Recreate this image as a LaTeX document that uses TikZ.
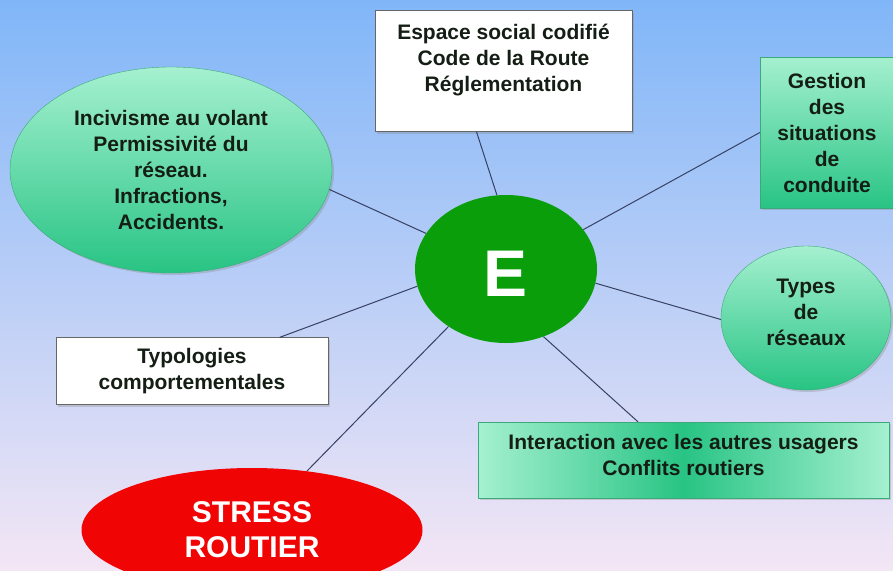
\documentclass[tikz,border=0pt]{standalone}
\usepackage{fontspec}
\setmainfont{Liberation Sans}
\usepackage{xcolor}
\usetikzlibrary{shapes.geometric, shadows}

\definecolor{skytop}{RGB}{128,182,248}
\definecolor{skybottom}{RGB}{243,230,245}
\definecolor{mintlight}{RGB}{165,240,208}
\definecolor{mintdark}{RGB}{40,196,132}
\definecolor{mintedge}{RGB}{60,170,120}
\definecolor{hubgreen}{RGB}{10,158,10}
\definecolor{stressred}{RGB}{240,4,4}
\definecolor{linkgray}{RGB}{55,65,100}
\definecolor{inkdark}{RGB}{20,30,20}

\begin{document}
\begin{tikzpicture}[x=1pt, y=-1pt,
  every node/.style={font=\bfseries\fontsize{21}{26}\selectfont, text=inkdark, align=center, inner sep=0pt},
  whitebox/.style={draw=black!60, fill=white, rectangle, drop shadow={shadow xshift=2pt, shadow yshift=-2pt, opacity=.3}},
  mintbox/.style={draw=mintedge, rectangle, top color=mintlight, bottom color=mintdark, drop shadow={shadow xshift=2pt, shadow yshift=-2pt, opacity=.3}},
  mintoval/.style={draw=mintedge, ellipse, top color=mintlight, bottom color=mintdark, drop shadow={shadow xshift=2pt, shadow yshift=-2pt, opacity=.3}},
  link/.style={draw=linkgray, line width=1pt}]
  \useasboundingbox (0,0) rectangle (893,570);
  \clip (0,0) rectangle (893,570);
  \fill[top color=skytop, bottom color=skybottom] (0,0) rectangle (893,570);

  % hub
  \node[ellipse, fill=hubgreen, minimum width=182pt, minimum height=148pt] (hub) at (506,269) {};
  \node[text=white, font=\bfseries\fontsize{66}{66}\selectfont] (hubE) at (506,274) {E};

  % satellites
  \node[whitebox, minimum width=257pt, minimum height=121pt] (espace) at (503.5,71) {Espace social codifié\\Code de la Route\\Réglementation\\\mbox{}};
  \node[mintoval, minimum width=322pt, minimum height=206pt] (incivisme) at (171,170) {Incivisme au volant\\Permissivité du\\réseau.\\Infractions,\\Accidents.};
  \node[mintbox, minimum width=134pt, minimum height=151pt] (gestion) at (827,132.5) {Gestion\\des\\situations\\de\\conduite};
  \node[mintoval, minimum width=170pt, minimum height=144pt] (types) at (806,318) {Types\\de\\réseaux\\[-14pt]\mbox{}};
  \node[whitebox, minimum width=272pt, minimum height=67pt] (typologies) at (192,371) {Typologies\\comportementales};
  \node[draw=mintedge, rectangle, left color=mintlight, right color=mintlight, middle color=mintdark, drop shadow={shadow xshift=2pt, shadow yshift=-2pt, opacity=.3}, minimum width=411pt, minimum height=76pt] (interaction) at (683.5,460) {Interaction avec les autres usagers\\Conflits routiers\\[-16pt]\mbox{}};
  \node[ellipse, fill=stressred, text=white, font=\bfseries\fontsize{30}{35}\selectfont, minimum width=341pt, minimum height=124pt] (stress) at (252,530) {STRESS\\ROUTIER};

  % connectors
  \draw[link] (hub.97) -- (espace.246);
  \draw[link] (hub.156) -- (incivisme.353);
  \draw[link] (hub.27) -- (gestion.west);
  \draw[link] (hub.351) -- (types.181);
  \draw[link] (hub.299) -- (interaction.140);
  \draw[link] (hub.191) -- (typologies.21);
  \draw[link] (hub.225) -- (stress.47);
\end{tikzpicture}
\end{document}
